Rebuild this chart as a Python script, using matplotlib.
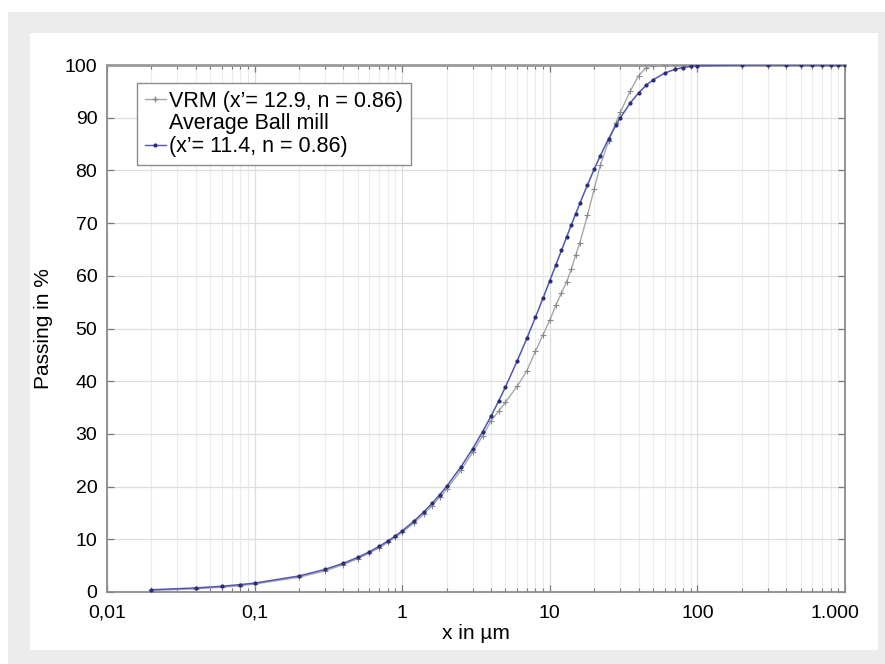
import matplotlib
matplotlib.use("Agg")
import matplotlib.pyplot as plt
from matplotlib.patches import Rectangle
from matplotlib.lines import Line2D
from matplotlib.ticker import LogLocator, NullFormatter
from matplotlib.transforms import ScaledTranslation

plt.rcParams['font.family'] = ['Liberation Sans', 'DejaVu Sans']

# ---- data ----
x_um = [0.02, 0.04, 0.06, 0.08, 0.1, 0.2, 0.3, 0.4, 0.5, 0.6, 0.7, 0.8, 0.9, 1,
        1.2, 1.4, 1.6, 1.8, 2, 2.5, 3, 3.5, 4, 4.5, 5, 6, 7, 8, 9, 10,
        11, 12, 13, 14, 15, 16, 18, 20, 22, 25, 28, 30, 35, 40, 45, 50,
        60, 70, 80, 90, 100, 200, 300, 400, 500, 600, 700, 800, 900, 1000]

ball_mill = [0.43, 0.77, 1.09, 1.40, 1.69, 3.04, 4.29, 5.46, 6.57, 7.64, 8.67, 9.68, 10.65, 11.60,
             13.44, 15.19, 16.87, 18.49, 20.05, 23.75, 27.18, 30.39, 33.38, 36.21, 38.87, 43.78, 48.18, 52.16, 55.78, 59.07,
             62.08, 64.83, 67.35, 69.68, 71.81, 73.78, 77.26, 80.24, 82.80, 85.98, 88.54, 89.96, 92.75, 94.73, 96.15, 97.17,
             98.46, 99.15, 99.52, 99.73, 99.85, 100, 100, 100, 100, 100, 100, 100, 100, 100]

vrm = [0.3, 0.6, 0.9, 1.2, 1.5, 2.8, 4.0, 5.2, 6.3, 7.4, 8.4, 9.4, 10.4, 11.3,
       13.1, 14.8, 16.4, 18.0, 19.5, 23.1, 26.5, 29.6, 32.5, 34.3, 36.0, 39.0, 42.0, 45.7, 48.8, 51.6,
       54.4, 56.8, 58.8, 61.3, 64.0, 66.3, 71.5, 76.5, 81.0, 85.5, 89.0, 91.0, 95.0, 98.0, 99.5, 99.9,
       100, 100, 100, 100, 100, 100, 100, 100, 100, 100, 100, 100, 100, 100]

x_ticks = [0.01, 0.1, 1, 10, 100, 1000]
x_tick_labels = ["0,01", "0,1", "1", "10", "100", "1.000"]
y_ticks = [0, 10, 20, 30, 40, 50, 60, 70, 80, 90, 100]

label_vrm = "VRM (x\u2019= 12.9, n = 0.86)"
label_ball_1 = "Average Ball mill"
label_ball_2 = "(x\u2019= 11.4, n = 0.86)"

# ---- figure ----
W, H = 885, 664
fig = plt.figure(figsize=(W / 100, H / 100), dpi=100)
fig.patch.set_facecolor('white')

def px_rect(x0, y0, x1, y1, color, z):
    fig.patches.append(Rectangle((x0 / W, 1 - y1 / H), (x1 - x0) / W, (y1 - y0) / H,
                                 transform=fig.transFigure, facecolor=color,
                                 edgecolor='none', zorder=z))

px_rect(8, 12, 885, 664, '#ececec', 0)
px_rect(30, 33, 878, 650, 'white', 1)

left, right, top, bottom = 107, 845, 65, 592
ax = fig.add_axes([left / W, 1 - bottom / H, (right - left) / W, (bottom - top) / H])
ax.set_zorder(2)
ax.set_facecolor('white')

ax.plot(x_um, vrm, color='#a8a8a8', lw=1.0, marker='+', ms=4, mew=0.8,
        mec='#8a8a8a', zorder=3)
ax.plot(x_um, ball_mill, color='#5555b5', lw=1.1, marker='.', ms=4,
        mfc='#2c2c78', mec='#2c2c78', zorder=4)

ax.set_xscale('log')
ax.set_xlim(0.01, 1000)
ax.set_ylim(0, 100)
ax.set_xticks(x_ticks)
ax.set_xticklabels(x_tick_labels)
ax.xaxis.set_minor_locator(LogLocator(base=10, subs=[2, 3, 4, 5, 6, 7, 8, 9]))
ax.xaxis.set_minor_formatter(NullFormatter())
ax.set_yticks(y_ticks)

ax.grid(True, which='major', axis='both', color='#dedede', lw=0.9)
ax.grid(True, which='minor', axis='x', color='#ececec', lw=0.8)
ax.set_axisbelow(True)

for s in ax.spines.values():
    s.set_color('#8c8c8c')
    s.set_linewidth(1.3)
ax.spines['top'].set_linewidth(2.0)
ax.spines['top'].set_color('#9a9a9a')

ax.tick_params(which='both', direction='in', top=True, right=True, colors='#7a7a7a',
               labelcolor='black', labelsize=14)
ax.tick_params(which='major', length=5, width=0.9)
ax.tick_params(which='minor', length=3, width=0.8)
ax.tick_params(axis='y', pad=7)
ax.tick_params(axis='x', pad=9)

# last x tick label sits a little left of its tick in the reference
last_lbl = ax.get_xticklabels()[-1]
last_lbl.set_transform(last_lbl.get_transform() + ScaledTranslation(-0.10, 0, fig.dpi_scale_trans))

ax.set_xlabel("x in \u00b5m", fontsize=15, labelpad=2)
ax.set_ylabel("Passing in %", fontsize=15)
ax.yaxis.set_label_coords((53 - left) / (right - left), 0.5)

h_vrm = Line2D([], [], color='#a8a8a8', lw=1.0, marker='+', ms=4, mec='#8a8a8a')
h_blank = Line2D([], [], linestyle='none')
h_ball = Line2D([], [], color='#5555b5', lw=1.0, marker='.', ms=4, mfc='#2c2c78', mec='#2c2c78')
leg = ax.legend([h_vrm, h_blank, h_ball], [label_vrm, label_ball_1, label_ball_2],
                loc='upper left', bbox_to_anchor=(137 / W, 1 - 83 / H),
                bbox_transform=fig.transFigure, borderaxespad=0,
                fancybox=False, framealpha=1, edgecolor='#8c8c8c',
                fontsize=15.5, handlelength=1.0, handletextpad=0.15,
                labelspacing=0.09, borderpad=0.35)
leg.get_frame().set_linewidth(1.0)

fig.savefig("out.png", dpi=100, facecolor=fig.get_facecolor())
